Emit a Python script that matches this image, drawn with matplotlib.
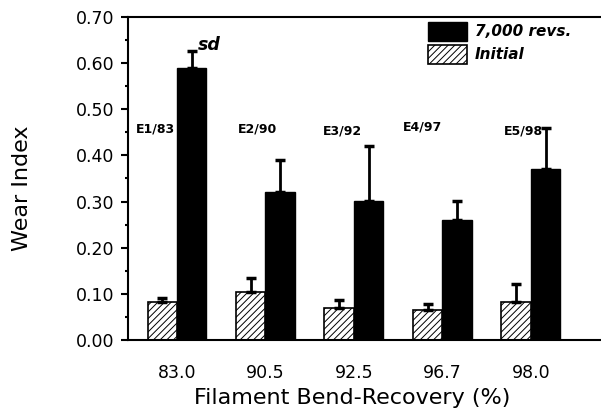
import matplotlib
matplotlib.use("Agg")
import matplotlib.pyplot as plt
import numpy as np
from matplotlib.ticker import MultipleLocator, FormatStrFormatter

plt.rcParams['font.family'] = ['DejaVu Sans']
plt.rcParams['hatch.linewidth'] = 0.7

categories = ["83.0", "90.5", "92.5", "96.7", "98.0"]
fiber_labels = ["E1/83", "E2/90", "E3/92", "E4/97", "E5/98"]
initial_mean = [0.082, 0.103, 0.070, 0.065, 0.083]
initial_sd = [0.010, 0.032, 0.016, 0.014, 0.039]
revs_mean = [0.590, 0.321, 0.301, 0.261, 0.370]
revs_sd = [0.036, 0.069, 0.119, 0.041, 0.090]
label_offset = [-0.24, -0.09, -0.13, -0.23, -0.08]
label_y = [0.458, 0.458, 0.452, 0.462, 0.452]

fig = plt.figure(figsize=(6.01, 4.17), dpi=100)
ax = fig.add_axes([0.213, 0.1847, 0.785, 0.7745])

x = np.arange(len(categories))
w = 1/3
b1 = ax.bar(x + w/2, revs_mean, w, color='black', edgecolor='black', linewidth=1,
            label='7,000 revs.', zorder=2)
b2 = ax.bar(x - w/2, initial_mean, w, color='white', edgecolor='black', hatch='/////',
            linewidth=1.2, label='Initial', zorder=2)
ax.errorbar(x + w/2, revs_mean, yerr=[np.zeros(5), revs_sd], fmt='none', ecolor='black',
            elinewidth=2, capsize=3.5, capthick=2.5, zorder=3)
ax.errorbar(x - w/2, initial_mean, yerr=[np.zeros(5), initial_sd], fmt='none', ecolor='black',
            elinewidth=2, capsize=3.5, capthick=2.5, zorder=3)

for i, lab in enumerate(fiber_labels):
    ax.text(x[i] + label_offset[i], label_y[i], lab, ha='center', va='center',
            fontsize=9, fontweight='bold')

ax.text(x[0] + w/2 + 0.07, revs_mean[0] + revs_sd[0] + 0.013, 'sd', fontsize=12.5,
        fontweight='bold', style='italic', ha='left', va='center')

ax.set_xlim(-0.554, 4.78)
ax.set_ylim(0, 0.70)
ax.set_xticks(x)
ax.set_xticklabels(categories, fontsize=12.5)
ax.tick_params(axis='x', length=0, pad=17)
ax.yaxis.set_major_locator(MultipleLocator(0.1))
ax.yaxis.set_minor_locator(MultipleLocator(0.05))
ax.yaxis.set_major_formatter(FormatStrFormatter('%.2f'))
ax.tick_params(axis='y', which='major', length=5, width=1.5, labelsize=12.5, pad=5)
ax.tick_params(axis='y', which='minor', length=2, width=1.5)
ax.spines['right'].set_visible(False)
for s in ['left', 'bottom', 'top']:
    ax.spines[s].set_linewidth(1.5)

ax.set_ylabel('Wear Index', fontsize=16)
ax.yaxis.set_label_coords(-0.203, 0.47)
ax.set_xlabel('Filament Bend-Recovery (%)', fontsize=16)
ax.xaxis.set_label_coords(0.475, -0.15)

leg = ax.legend(handles=[b1, b2], loc='upper left', bbox_to_anchor=(0.636, 0.985),
                frameon=False, borderpad=0, borderaxespad=0,
                prop={'weight': 'bold', 'style': 'italic', 'size': 11},
                handlelength=2.55, handleheight=1.55, handletextpad=0.5,
                labelspacing=0.25)

fig.savefig('out.png', dpi=100)
